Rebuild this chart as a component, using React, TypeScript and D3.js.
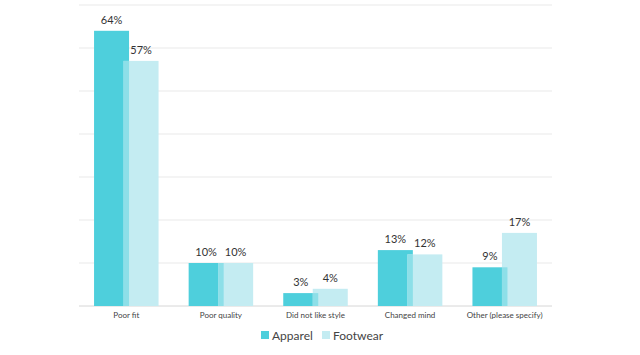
import React from "react";
import * as d3 from "d3";

const categories = ["Poor fit", "Poor quality", "Did not like style", "Changed mind", "Other (please specify)"];
const apparel = [64, 10, 3, 13, 9];
const footwear = [57, 10, 4, 12, 17];
const seriesNames = ["Apparel", "Footwear"];
const yTicks = [0, 10, 20, 30, 40, 50, 60, 70];

const W = 640, H = 355;
const left = 79, right = 552, top = 5, bottom = 306;
const colA = "#4ecfdc";
const colF = "#c4ecf2";
const colO = "#8ddfe8";
const font = "Lato, 'Open Sans', sans-serif";

export default function App() {
  const x = d3.scaleBand<string>().domain(categories).range([left, right]).padding(0);
  const y = d3.scaleLinear().domain([0, 70]).range([bottom, top]);
  const bw = 35;
  const ov = 5.5;
  return (
    <svg width={W} height={H} style={{ position: "absolute", left: 0, top: 0 }}>
      <rect width={W} height={H} fill="#fff" />
      {yTicks.slice(1).map((t) => (
        <line key={t} x1={left} x2={right} y1={y(t)} y2={y(t)} stroke="#f1f1f1" strokeWidth={1.5} />
      ))}
      <line x1={left} x2={right} y1={bottom} y2={bottom} stroke="#d6d6d6" strokeWidth={1} />
      {categories.map((c, i) => {
        const cx = (x(c) as number) + x.bandwidth() / 2;
        const ax = cx - bw + ov / 2;
        const fx = cx - ov / 2;
        const ya = y(apparel[i]);
        const yf = y(footwear[i]);
        const yo = Math.max(ya, yf);
        return (
          <g key={c}>
            <rect x={ax} y={ya} width={bw} height={bottom - ya} fill={colA} />
            <rect x={fx} y={yf} width={bw} height={bottom - yf} fill={colF} />
            <rect x={fx} y={yo} width={ov} height={bottom - yo} fill={colO} />
            <text x={ax + bw / 2} y={ya - 7} textAnchor="middle" fontFamily={font} fontSize={11} fill="#333">
              {apparel[i]}%
            </text>
            <text x={fx + bw / 2} y={yf - 7} textAnchor="middle" fontFamily={font} fontSize={11} fill="#333">
              {footwear[i]}%
            </text>
            <text x={cx} y={318} textAnchor="middle" fontFamily={font} fontSize={8} fill="#444">
              {c}
            </text>
          </g>
        );
      })}
      <g fontFamily={font} fontSize={12} fill="#444">
        <rect x={261} y={331} width={8} height={8} fill={colA} />
        <text x={272} y={340}>{seriesNames[0]}</text>
        <rect x={322} y={331} width={8} height={8} fill={colF} />
        <text x={333} y={340}>{seriesNames[1]}</text>
      </g>
    </svg>
  );
}
